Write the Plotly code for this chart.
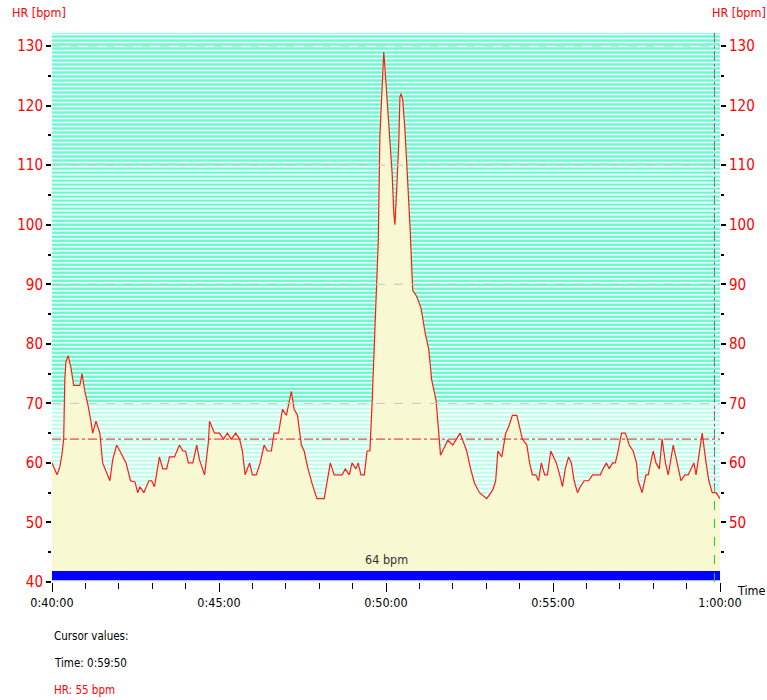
import plotly.graph_objects as go

# elapsed seconds since 0:40:00
t_sec = [0, 9, 14, 18, 21, 23, 25, 29, 34, 39, 50, 54, 59, 64, 70, 73, 79, 82, 86, 91,
         99, 104, 109, 116, 122, 133, 141, 149, 154, 158, 165, 174, 179, 184, 193, 199, 206, 211, 220, 229,
         235, 240, 245, 253, 260, 265, 274, 281, 283, 288, 292, 301, 308, 315, 322, 330, 337, 342, 347, 355,
         360, 367, 374, 381, 387, 394, 399, 407, 414, 421, 430, 435, 441, 448, 453, 460, 467, 476, 489, 500,
         507, 521, 527, 534, 539, 546, 550, 555, 561, 566, 571, 575, 579, 582, 586, 589, 593, 596, 598, 602,
         605, 611, 614, 616, 620, 623, 625, 627, 630, 634, 638, 641, 643, 648, 655, 663, 670, 677, 682, 690,
         698, 711, 720, 733, 745, 752, 759, 768, 781, 792, 797, 801, 808, 815, 820, 827, 835, 840, 845, 853,
         858, 863, 869, 874, 879, 885, 890, 896, 901, 906, 912, 917, 922, 928, 933, 938, 944, 949, 956, 964,
         971, 978, 985, 990, 996, 1001, 1007, 1012, 1017, 1023, 1030, 1037, 1044, 1050, 1053, 1060, 1067, 1071, 1080, 1085,
         1091, 1096, 1102, 1107, 1116, 1123, 1130, 1137, 1143, 1148, 1153, 1157, 1162, 1168, 1175, 1180, 1186, 1193, 1200]
hr = [60, 58, 59.3, 61.5, 64, 74, 77, 78, 76, 73, 73, 75, 72, 70, 67, 65, 67, 66, 65, 60,
      58, 57, 60.5, 63, 62, 60, 57, 56.8, 55, 56, 55, 57, 57, 56, 61, 59, 59, 61, 61, 63,
      62, 62, 60, 60, 63, 60.5, 58, 63.5, 67, 66, 65, 65, 64, 65, 64, 65, 64, 62, 58, 60,
      58, 58, 60, 63, 62, 62, 65, 65, 69, 68, 72, 69, 68, 63, 62, 59, 56.6, 54, 54, 60,
      58, 58, 59, 58, 60, 59, 60, 58, 58, 62, 62, 70, 80, 90, 97, 115, 122, 129, 126.5, 120.5,
      116, 108.7, 102, 100, 107.5, 114, 121.4, 122, 121, 116, 109, 104, 100, 89, 88, 86, 82, 79, 74, 70.5,
      61.3, 63.8, 63, 65, 62, 59, 56.6, 55, 54, 55.5, 57, 62, 61, 65, 66, 68, 68, 66, 64, 63,
      60, 58, 58, 57, 60, 58, 58, 62, 61, 60, 58, 56, 59, 61, 60, 57, 55, 56, 57, 57,
      58, 58, 58, 59, 60, 59, 60, 60, 62, 65, 65, 63, 62, 60, 57, 55, 58, 58, 62, 60,
      59, 64, 60, 58, 63, 60, 57, 58, 58, 59, 60, 58, 61, 65, 60, 57, 55, 55, 54]

x_tickvals = [0, 300, 600, 900, 1200]
x_ticktext = ["0:40:00", "0:45:00", "0:50:00", "0:55:00", "1:00:00"]
y_tickvals = [40, 50, 60, 70, 80, 90, 100, 110, 120, 130]
y_tickvals_right = [50, 60, 70, 80, 90, 100, 110, 120, 130]
zone_lines = [70, 90, 110, 130]
avg_hr = 64
cursor_t = 1190
y_min, y_max = 40, 132.2

FONT = "DejaVu Sans Condensed, Liberation Sans Narrow, Liberation Sans, Arial"

fig = go.Figure()
fig.add_trace(go.Scatter(x=t_sec, y=hr, mode="lines", line=dict(color="#FF1A1A", width=1.2),
                         fill="tozeroy", fillcolor="#F8F9D2", hoverinfo="skip", showlegend=False))
fig.add_trace(go.Scatter(x=[0], y=[60], yaxis="y2", mode="markers", marker=dict(opacity=0),
                         showlegend=False, hoverinfo="skip"))

shapes = []
# striped background
period = 0.672
yy = y_min
while yy < y_max:
    col = "#66FFCC" if yy >= 70 else "#C2FFEA"
    shapes.append(dict(type="rect", xref="x", yref="y", x0=0, x1=1200, y0=yy, y1=min(yy + period * 0.62, y_max),
                       fillcolor=col, line=dict(width=0), layer="below"))
    yy += period
# zone lines
for z in zone_lines:
    shapes.append(dict(type="line", xref="x", yref="y", x0=0, x1=1200, y0=z, y1=z,
                       line=dict(color="#C4C4C4", width=1, dash="dash"), layer="above"))
# average
shapes.append(dict(type="line", xref="x", yref="y", x0=0, x1=1200, y0=avg_hr, y1=avg_hr,
                   line=dict(color="#E02020", width=1, dash="dashdot"), layer="above"))
# blue bar
shapes.append(dict(type="rect", xref="x", yref="y", x0=0, x1=1200, y0=40.3, y1=41.85,
                   fillcolor="#0000FF", line=dict(width=0), layer="above"))
# cursor
shapes.append(dict(type="line", xref="x", yref="y", x0=cursor_t, x1=cursor_t, y0=40, y1=y_max,
                   line=dict(color="#22CC22", width=1, dash="dash"), layer="above"))
shapes.append(dict(type="line", xref="x", yref="y", x0=cursor_t, x1=cursor_t, y0=56, y1=y_max,
                   line=dict(color="#E020E0", width=1, dash="dot"), layer="above"))

annotations = [
    dict(text="HR [bpm]", xref="paper", yref="paper", x=0, y=1, xshift=-42, yshift=30,
         xanchor="left", yanchor="top", showarrow=False, font=dict(family=FONT, size=12.5, color="#FF0000")),
    dict(text="HR [bpm]", xref="paper", yref="paper", x=1, y=1, xshift=-10, yshift=30,
         xanchor="left", yanchor="top", showarrow=False, font=dict(family=FONT, size=12.5, color="#FF0000")),
    dict(text="Time", xref="paper", yref="paper", x=1, y=0, xshift=15, yshift=-8,
         xanchor="left", yanchor="middle", showarrow=False, font=dict(family=FONT, size=12.5, color="#000000")),
    dict(text=f"{avg_hr} bpm", xref="x", yref="y", x=600, y=43.8, showarrow=False,
         font=dict(family=FONT, size=12.5, color="#333333")),
    dict(text="Cursor values:", xref="paper", yref="paper", x=0, y=0, yshift=-45,
         xanchor="left", yanchor="top", showarrow=False, font=dict(family=FONT, size=11.5, color="#000000")),
    dict(text="Time: 0:59:50", xref="paper", yref="paper", x=0, y=0, yshift=-72,
         xanchor="left", yanchor="top", showarrow=False, font=dict(family=FONT, size=11.5, color="#000000")),
    dict(text="HR: 55 bpm", xref="paper", yref="paper", x=0, y=0, yshift=-99,
         xanchor="left", yanchor="top", showarrow=False, font=dict(family=FONT, size=11.5, color="#FF0000")),
]

yax = dict(range=[y_min, y_max], tickvals=y_tickvals, ticks="outside", ticklen=5, tickwidth=2,
           tickcolor="#000000", showgrid=False, zeroline=False, showline=False,
           tickfont=dict(family=FONT, size=15, color="#FF0000"),
           minor=dict(tickvals=[45, 55, 65, 75, 85, 95, 105, 115, 125], ticks="outside", ticklen=3,
                      tickwidth=2, tickcolor="#000000"))

fig.update_layout(
    width=767, height=700, margin=dict(l=52, r=45, t=33, b=118),
    paper_bgcolor="#FFFFFF", plot_bgcolor="#FFFFFF",
    xaxis=dict(range=[0, 1200], tickvals=x_tickvals, ticktext=x_ticktext, ticks="outside",
               ticklen=9, tickcolor="#000000", showgrid=False, zeroline=False, showline=False,
               tickfont=dict(family=FONT, size=12.5, color="#000000"),
               minor=dict(dtick=60, tick0=0, ticks="outside", ticklen=6, tickcolor="#000000")),
    yaxis=yax,
    yaxis2=dict(yax, overlaying="y", side="right", tickvals=y_tickvals_right),
    shapes=shapes, annotations=annotations, showlegend=False,
)

fig.write_html("out.html", config={"displayModeBar": False},
               post_script="document.body.style.margin='0';document.body.style.overflow='hidden';")
